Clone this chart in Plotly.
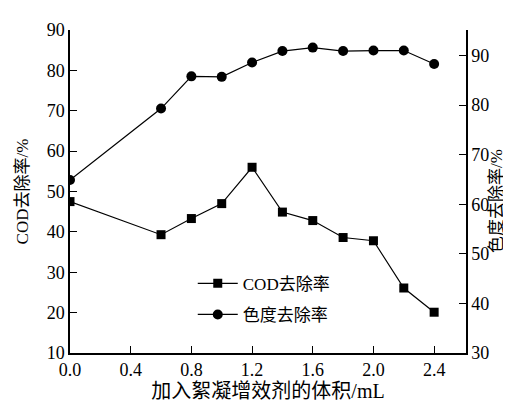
import plotly.graph_objects as go

volume = [0.0, 0.6, 0.8, 1.0, 1.2, 1.4, 1.6, 1.8, 2.0, 2.2, 2.4]
cod_removal = [47.5, 39.3, 43.3, 47.0, 56.0, 44.9, 42.8, 38.6, 37.8, 26.1, 20.1]
color_removal = [64.9, 79.3, 85.8, 85.7, 88.6, 90.9, 91.6, 90.9, 91.0, 91.0, 88.3]
x_ticks = [0.0, 0.4, 0.8, 1.2, 1.6, 2.0, 2.4]
x_tick_text = ["0.0", "0.4", "0.8", "1.2", "1.6", "2.0", "2.4"]

FONT = "Liberation Serif, Noto Sans CJK SC, serif"

fig = go.Figure()
fig.add_trace(go.Scatter(
    x=volume, y=cod_removal, name="COD去除率", mode="lines+markers",
    legendgroup="a",
    line=dict(color="black", width=1.2),
    marker=dict(symbol="square", size=9, color="black"),
    yaxis="y"))
fig.add_trace(go.Scatter(
    x=volume, y=color_removal, name="色度去除率", mode="lines+markers",
    legendgroup="b",
    line=dict(color="black", width=1.2),
    marker=dict(symbol="circle", size=10, color="black"),
    yaxis="y2"))

axis_common = dict(showline=True, linecolor="black", linewidth=1.5,
                   ticks="inside", ticklen=7, tickcolor="black", tickwidth=1.2,
                   showgrid=False, zeroline=False,
                   tickfont=dict(family=FONT, size=18, color="black"))

fig.update_layout(
    width=511, height=406,
    margin=dict(l=62, r=53, t=16, b=61),
    paper_bgcolor="white", plot_bgcolor="white",
    font=dict(family=FONT, color="black"),
    xaxis=dict(range=[0, 2.61], tickvals=x_ticks, ticktext=x_tick_text,
               title=dict(text="加入絮凝增效剂的体积/mL", font=dict(family=FONT, size=20), standoff=4),
               **axis_common),
    yaxis=dict(range=[10, 90], dtick=10,
               title=dict(text="COD去除率/%", font=dict(family=FONT, size=17), standoff=14),
               **axis_common),
    yaxis2=dict(range=[30, 95.15], tickvals=[30, 40, 50, 60, 70, 80, 90], overlaying="y", side="right",
                **axis_common),
    legend=dict(x=0.31, y=0.27, xanchor="left", yanchor="top",
                bgcolor="rgba(0,0,0,0)", font=dict(family=FONT, size=17, color="black"),
                itemwidth=40, traceorder="grouped", tracegroupgap=6),
    showlegend=True,
    annotations=[dict(text="色度去除率/%", xref="paper", yref="paper",
                      x=1.075, y=0.47, xanchor="center", yanchor="middle",
                      textangle=-90, showarrow=False,
                      font=dict(family=FONT, size=17, color="black"))],
)

fig.write_html("out.html")
